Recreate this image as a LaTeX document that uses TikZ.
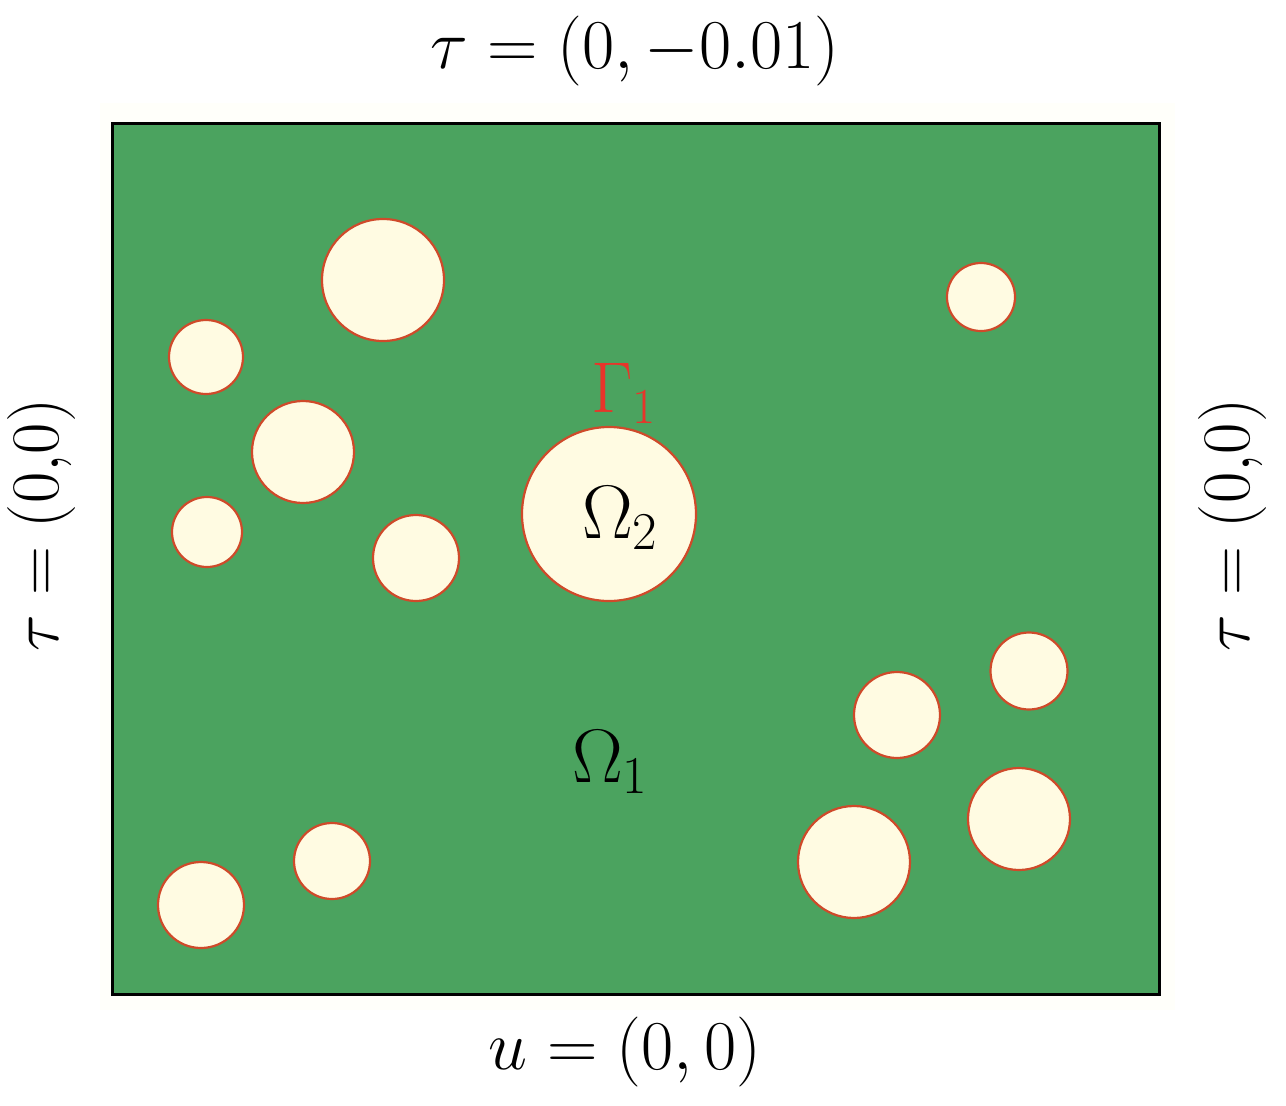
\RequirePackage{fix-cm}
\documentclass[tikz,border=0pt]{standalone}
\usepackage{amsmath}
\definecolor{domgreen}{HTML}{4BA35F}
\definecolor{incl}{HTML}{FFFBE2}
\definecolor{incledge}{HTML}{CF4A2A}
\definecolor{gammared}{HTML}{E8352A}
\definecolor{faint}{HTML}{FFFFFA}
\tikzset{
  hole/.style={circle, draw=incledge, line width=2.2pt, fill=incl, inner sep=0pt, minimum size=#1},
  bclabel/.style={font=\fontsize{70}{72}\selectfont, inner sep=0pt},
  sidelabel/.style={font=\fontsize{68}{70}\selectfont, inner sep=0pt, rotate=90},
  domlabel/.style={font=\fontsize{76}{78}\selectfont, inner sep=0pt}
}
\begin{document}
\begin{tikzpicture}[x=1pt,y=-1pt]
\useasboundingbox (0,0) rectangle (1286,1106);
\fill[faint] (100,103) rectangle (1175,1010);
\draw[fill=domgreen, line width=3pt] (112,123) rectangle (1159,994);
\node[hole=122pt] (c1) at (383,280) {};
\node[hole=74pt] (c2) at (206,357) {};
\node[hole=102pt] (c3) at (303,452) {};
\node[hole=70pt] (c4) at (207,532) {};
\node[hole=86pt] (c5) at (416,558) {};
\node[hole=174pt] (c6) at (609,514) {};
\node[hole=68pt] (c7) at (981,297) {};
\node[hole=77pt] (c8) at (1029,671) {};
\node[hole=86pt] (c9) at (897,715) {};
\node[hole=102pt] (c10) at (1019,819) {};
\node[hole=112pt] (c11) at (854,862) {};
\node[hole=76pt] (c12) at (332,861) {};
\node[hole=86pt] (c13) at (201,905) {};
\node[domlabel, font=\fontsize{72}{74}\selectfont, text=gammared] (g1) at (624,393) {$\Gamma_1$};
\node[domlabel] (o2) at (620,518) {$\Omega_2$};
\node[domlabel] (o1) at (610,762) {$\Omega_1$};
\node[bclabel] (top) at (635,51) {$\tau=(0,-0.01)$};
\node[bclabel] (bot) at (625,1052) {$u=(0,0)$};
\node[sidelabel] (lft) at (42,525) {$\tau=(0{,}0)$};
\node[sidelabel] (rgt) at (1232,525) {$\tau=(0{,}0)$};
\end{tikzpicture}
\end{document}
